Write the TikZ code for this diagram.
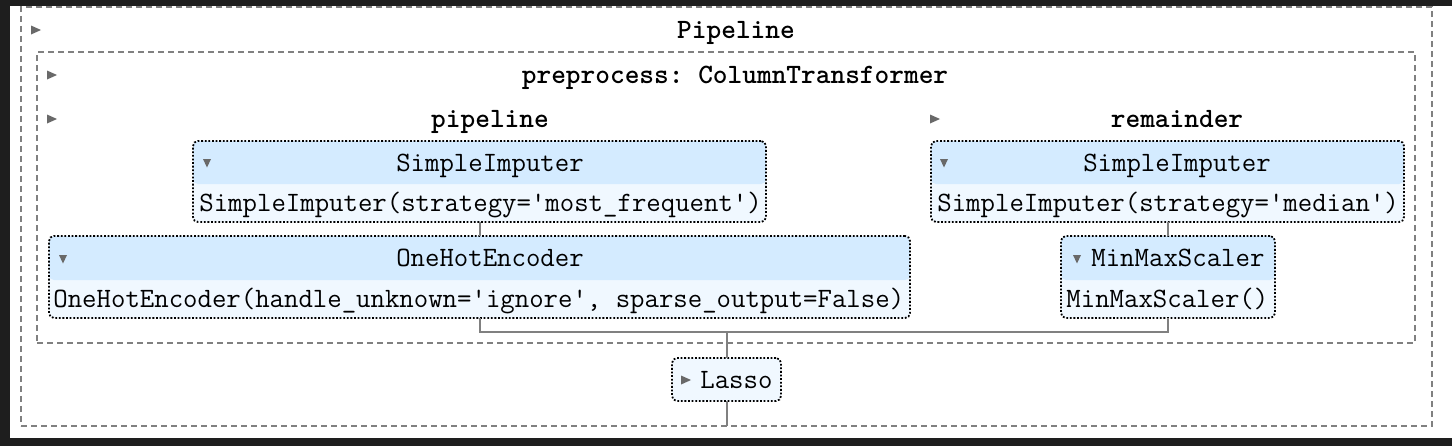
\documentclass[tikz,border=0pt]{standalone}
\usepackage{fontspec}
\definecolor{darkbg}{HTML}{1E1E1E}
\definecolor{hdrc}{HTML}{D4EBFF}
\definecolor{bodyc}{HTML}{F0F8FF}
\definecolor{linec}{HTML}{808080}
\definecolor{tric}{HTML}{696969}
\newcommand\estfont{\frenchspacing\ttfamily\fontsize{14pt}{16pt}\selectfont}
\newcommand\ttlfont{\frenchspacing\ttfamily\bfseries\fontsize{14pt}{16pt}\selectfont}
\tikzset{
  cont/.style={draw=linec, line width=1pt, dash pattern=on 3pt off 2pt, inner sep=0pt, outer sep=0pt},
  est/.style={fill=bodyc, draw=black, line width=0.9pt, dash pattern=on 0.9pt off 0.9pt,
    rounded corners=2.5pt, inner sep=0pt, outer sep=0pt},
  hdr/.style={path picture={\fill[hdrc] (path picture bounding box.north west) rectangle
    ([yshift=-#1]path picture bounding box.north east);}},
  conn/.style={draw=linec, line width=1pt},
  lbl/.style={inner sep=0pt, font=\estfont},
  ttl/.style={inner sep=0pt, font=\ttlfont},
  rtri/.pic={\fill[tric] (-5,-4.5) -- (5,0) -- (-5,4.5) -- cycle;},
  dtri/.pic={\fill[tric] (-4,-4) -- (4,-4) -- (0,4.5) -- cycle;},
}
\begin{document}
\begin{tikzpicture}[x=0.5pt, y=-0.5pt]
\useasboundingbox (0,0) rectangle (1452,446);
\fill[darkbg] (0,0) rectangle (1452,446);
\fill[white] (10,6) rectangle (1452,438);

% containers
\node[cont, minimum width=705.5pt, minimum height=209.5pt] (outer) at (726.5,216.5) {};
\node[cont, minimum width=689pt, minimum height=145.5pt] (inner) at (726,197.5) {};

% titles
\pic at (36,30) {rtri};
\node[ttl, anchor=base] (tpipe) at (736,38) {Pipeline};
\pic at (52,75) {rtri};
\node[ttl, anchor=base] (tpre) at (735,83) {preprocess: ColumnTransformer};
\pic at (52,119) {rtri};
\node[ttl, anchor=base] (tpl) at (490,127) {pipeline};
\pic at (935,119) {rtri};
\node[ttl, anchor=base] (trem) at (1177,127) {remainder};

% estimators
\node[est, hdr=21.5pt, minimum width=286.5pt, minimum height=40.5pt] (si1) at (479.5,181.5) {};
\node[est, hdr=22pt, minimum width=430.5pt, minimum height=41pt] (ohe) at (479.5,277) {};
\node[est, hdr=21.5pt, minimum width=236.5pt, minimum height=40.5pt] (si2) at (1167.5,181.5) {};
\node[est, hdr=22pt, minimum width=107pt, minimum height=41pt] (mms) at (1168,277) {};
\node[est, minimum width=54.5pt, minimum height=21.5pt] (lasso) at (726.5,379.5) {};

% connectors
\coordinate (j) at (727,332);
\draw[conn] (si1.south) -- (ohe.north);
\draw[conn] (mms.north |- si2.south) -- (mms.north);
\draw[conn] (ohe.south) -- (ohe.south |- j) -- (mms.south |- j) -- (mms.south);
\draw[conn] (lasso.north) -- (lasso.north |- j);
\draw[conn] (lasso.south) -- (lasso.south |- outer.south);

% estimator texts
\pic at (207,163) {dtri};
\node[lbl, anchor=base] (si1h) at (490,171) {SimpleImputer};
\node[lbl, anchor=base west] (si1b) at (199,211) {SimpleImputer(strategy='most\_frequent')};

\pic at (63,259) {dtri};
\node[lbl, anchor=base] (oheh) at (490,266) {OneHotEncoder};
\node[lbl, anchor=base west] (oheb) at (53,307) {OneHotEncoder(handle\_unknown='ignore', sparse\_output=False)};

\pic at (944,163) {dtri};
\node[lbl, anchor=base] (si2h) at (1177,171) {SimpleImputer};
\node[lbl, anchor=base west] (si2b) at (937,211) {SimpleImputer(strategy='median')};

\pic at (1077,259) {dtri};
\node[lbl, anchor=base west] (mmsh) at (1091,266) {MinMaxScaler};
\node[lbl, anchor=base west] (mmsb) at (1066,307) {MinMaxScaler()};

\pic at (686,380) {rtri};
\node[lbl, anchor=base west] (lassot) at (700,388) {Lasso};
\end{tikzpicture}
\end{document}
